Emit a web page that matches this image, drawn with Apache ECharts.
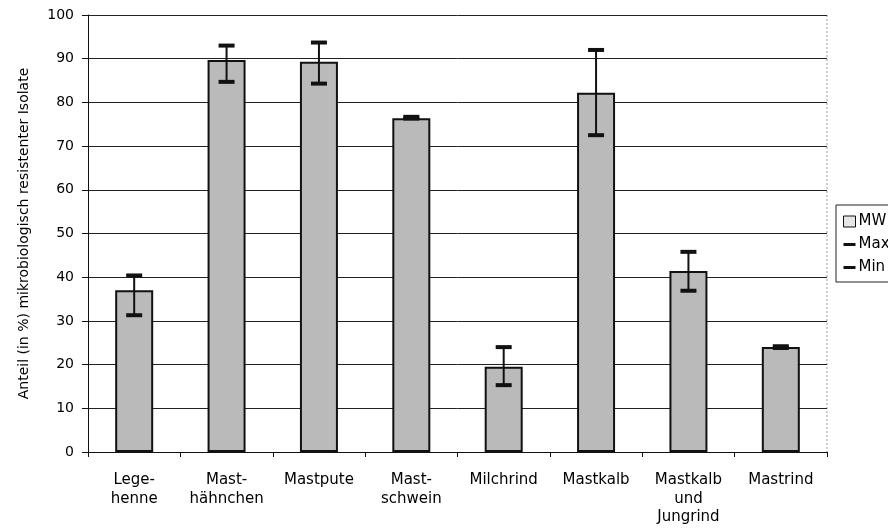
<!DOCTYPE html>
<html><head><meta charset="utf-8">
<script src="https://cdn.jsdelivr.net/npm/echarts@6/dist/echarts.min.js"></script>
<style>html,body{margin:0;padding:0;background:#fff}#c{width:888px;height:528px}</style>
</head><body><div id="c"></div>
<script>
const categories = ["Lege-\nhenne", "Mast-\nhähnchen", "Mastpute", "Mast-\nschwein", "Milchrind", "Mastkalb", "Mastkalb\nund\nJungrind", "Mastrind"];
const mwValues  = [37.0, 89.7, 89.3, 76.4, 19.5, 82.2, 41.4, 24.0];
const maxValues = [40.4, 93.0, 93.7, 76.7, 24.0, 92.0, 45.8, 24.2];
const minValues = [31.3, 84.7, 84.3, 76.3, 15.3, 72.5, 36.9, 23.8];
const yTicks = [0, 10, 20, 30, 40, 50, 60, 70, 80, 90, 100];

const FONT = 'DejaVu Sans';
const chart = echarts.init(document.getElementById('c'), null, {renderer: 'canvas'});

function errorRender(params, api) {
  const i = params.dataIndex;
  const hi = api.coord([i, api.value(1)]);
  const lo = api.coord([i, api.value(2)]);
  const capW = 16, capH = 4;
  return {
    type: 'group',
    children: [
      {type: 'line', shape: {x1: hi[0], y1: hi[1], x2: lo[0], y2: lo[1]}, style: {stroke: '#111', lineWidth: 2}},
      {type: 'rect', shape: {x: hi[0] - capW / 2, y: hi[1] - capH / 2, width: capW, height: capH}, style: {fill: '#111'}},
      {type: 'rect', shape: {x: lo[0] - capW / 2, y: lo[1] - capH / 2, width: capW, height: capH}, style: {fill: '#111'}}
    ]
  };
}

const dash = 'path://M0,0h12v3h-12z';

const option = {
  animation: false,
  backgroundColor: '#fff',
  textStyle: {fontFamily: FONT, color: '#000'},
  grid: {left: 88, top: 15, right: 61, bottom: 76},
  legend: {
    orient: 'vertical', left: 836, top: 205,
    data: [
      {name: 'MW', icon: 'rect', itemStyle: {color: '#e6e6e6', borderColor: '#111', borderWidth: 1}},
      {name: 'Max', icon: dash, itemStyle: {color: '#111'}},
      {name: 'Min', icon: dash, itemStyle: {color: '#111'}}
    ],
    symbolKeepAspect: true,
    itemWidth: 12, itemHeight: 11, itemGap: 8,
    padding: [9, 10, 7, 7],
    borderColor: '#222', borderWidth: 1,
    textStyle: {fontFamily: FONT, fontSize: 15, color: '#000', padding: [0, 0, 0, -2]}
  },
  xAxis: {
    type: 'category', data: categories,
    axisLine: {lineStyle: {color: '#111', width: 1}},
    axisTick: {show: true, alignWithLabel: false, length: 5, lineStyle: {color: '#111'}},
    axisLabel: {fontFamily: FONT, fontSize: 15, color: '#000', margin: 19, lineHeight: 18.5, interval: 0},
    splitLine: {show: false}
  },
  yAxis: {
    type: 'value', min: 0, max: 100, interval: 10,
    name: 'Anteil (in %) mikrobiologisch resistenter Isolate',
    nameLocation: 'middle', nameRotate: 90, nameGap: 57,
    nameTextStyle: {fontFamily: FONT, fontSize: 14, color: '#000'},
    axisLine: {show: true, lineStyle: {color: '#111', width: 1}},
    axisTick: {show: true, length: 6, lineStyle: {color: '#111'}},
    axisLabel: {fontFamily: FONT, fontSize: 14, color: '#000', margin: 14,
      formatter: v => yTicks.includes(v) ? String(v) : ''},
    splitLine: {show: true, lineStyle: {color: '#222', width: 1}}
  },
  series: [
    {
      name: 'MW', type: 'bar', data: mwValues, barWidth: 38,
      itemStyle: {color: '#bababa', borderColor: '#111', borderWidth: 2},
      z: 2
    },
    {
      name: 'Max', type: 'line', data: [], symbol: 'none',
      itemStyle: {color: '#111'}, lineStyle: {color: '#111', width: 3}
    },
    {
      name: 'Min', type: 'line', data: [], symbol: 'none',
      itemStyle: {color: '#111'}, lineStyle: {color: '#111', width: 3}
    },
    {
      name: 'Fehler', type: 'custom',
      data: categories.map((c, i) => [i, maxValues[i], minValues[i]]),
      renderItem: errorRender, z: 5
    }
  ],
  graphic: [
    {type: 'line', shape: {x1: 827, y1: 15, x2: 827, y2: 452},
     style: {stroke: '#999', lineWidth: 1, lineDash: [2, 2]}, z: 0}
  ]
};
chart.setOption(option);
</script>
</body></html>
